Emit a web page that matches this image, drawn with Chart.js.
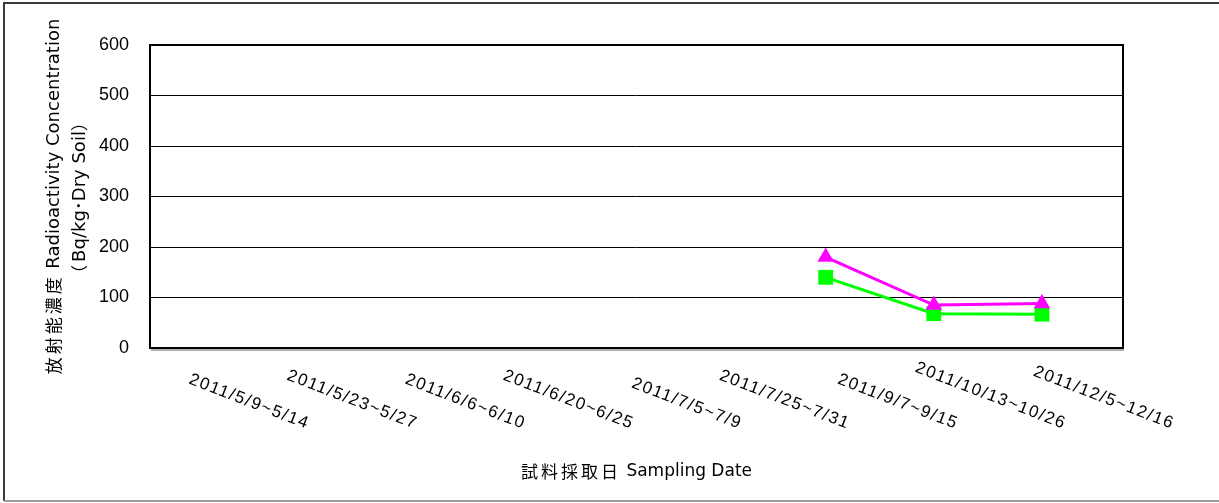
<!DOCTYPE html>
<html>
<head>
<meta charset="utf-8">
<script src="https://cdn.jsdelivr.net/npm/chart.js@4/dist/chart.umd.min.js"></script>
<style>
  html, body { margin: 0; padding: 0; background: #fff; }
  #wrap { width: 1219px; height: 503px; position: relative; }
</style>
</head>
<body>
<div id="wrap"><canvas id="chart"></canvas></div>
<script>
'use strict';

// ── Data ──────────────────────────────────────────────────────────────────
const CATEGORIES = [
  '2011/5/9~5/14', '2011/5/23~5/27', '2011/6/6~6/10', '2011/6/20~6/25',
  '2011/7/5~7/9', '2011/7/25~7/31', '2011/9/7~9/15', '2011/10/13~10/26',
  '2011/12/5~12/16',
];
const SERIES_A = [null, null, null, null, null, null, 180, 85, 88];   // magenta triangles
const SERIES_B = [null, null, null, null, null, null, 140, 68, 67];   // green squares
const Y_TICKS  = [0, 100, 200, 300, 400, 500, 600];

const Y_TITLE = [
  [['放射能濃度', 'cjk'], [' Radioactivity Concentration', 'lat']],
  [['（', 'cjk'], ['Bq/kg･Dry Soil', 'lat'], ['）', 'cjk']],
];
const X_TITLE = [['試料採取日', 'cjk'], [' Sampling Date', 'lat']];

// ── Colours / fonts ───────────────────────────────────────────────────────
const COL_A = '#ff00ff';
const COL_B = '#00ff00';

const toPoints = vals => vals.map((v, i) => ({ x: i, y: v }));

// draw a run of text parts centred on (0,0) of the current transform
function drawParts(ctx, parts, latSize) {
  const setFont = kind => {
    ctx.font = kind === 'cjk' ? "17px 'Noto Sans CJK JP'" : latSize + "px 'DejaVu Sans', 'Noto Sans CJK JP'";
    ctx.letterSpacing = kind === 'cjk' ? '3px' : '0px';
  };
  const widths = parts.map(([t, kind]) => { setFont(kind); return ctx.measureText(t).width; });
  let x = -widths.reduce((a, b) => a + b, 0) / 2;
  parts.forEach(([t, kind], i) => {
    setFont(kind);
    ctx.fillText(t, x, 0);
    x += widths[i];
  });
  ctx.letterSpacing = '0px';
}

// ── Extra drawing: frames, rotated date labels, axis titles ───────────────
const sketchPlugin = {
  id: 'sketchText',
  beforeDraw(chart) {
    const ctx = chart.ctx;
    ctx.save();
    ctx.lineWidth = 2;
    ctx.strokeStyle = '#3a3a3a';
    ctx.beginPath();
    ctx.moveTo(4, 501); ctx.lineTo(4, 3); ctx.lineTo(1225, 3);
    ctx.stroke();
    ctx.strokeStyle = '#9a9a9a';
    ctx.beginPath();
    ctx.moveTo(4, 501); ctx.lineTo(1225, 501);
    ctx.stroke();
    ctx.restore();
  },
  beforeDatasetsDraw(chart) {
    const { ctx, chartArea: a } = chart;
    ctx.save();
    ctx.strokeStyle = '#b0b0b0';
    ctx.lineWidth = 2;
    ctx.beginPath();
    ctx.moveTo(a.left + 1, a.bottom + 2); ctx.lineTo(a.right + 1, a.bottom + 2);
    ctx.stroke();
    ctx.strokeStyle = '#000';
    ctx.lineWidth = 2;
    ctx.strokeRect(a.left, a.top, a.right - a.left, a.bottom - a.top);
    ctx.restore();
  },
  afterDraw(chart) {
    const { ctx, chartArea: a } = chart;
    const xs = chart.scales.x;
    ctx.save();
    ctx.fillStyle = '#000';

    // rotated category labels, anchored at their end
    ctx.font = "17px 'Liberation Sans', Arial, sans-serif";
    ctx.letterSpacing = '1.5px';
    ctx.textAlign = 'right';
    ctx.textBaseline = 'alphabetic';
    CATEGORIES.forEach((lbl, i) => {
      const px = xs.getPixelForValue(i);
      ctx.save();
      ctx.translate(px + 130, a.bottom + 81);
      ctx.rotate(21 * Math.PI / 180);
      ctx.fillText(lbl, 0, 0);
      ctx.restore();
    });
    ctx.letterSpacing = '0px';

    // axis titles
    ctx.textAlign = 'left';
    ctx.textBaseline = 'middle';
    const cy = (a.top + a.bottom) / 2;
    [54, 80].forEach((x, li) => {
      ctx.save();
      ctx.translate(x, cy);
      ctx.rotate(-Math.PI / 2);
      drawParts(ctx, Y_TITLE[li], 18);
      ctx.restore();
    });
    ctx.save();
    ctx.translate((a.left + a.right) / 2, 472);
    drawParts(ctx, X_TITLE, 17);
    ctx.restore();

    ctx.restore();
  },
};

// ── Chart ─────────────────────────────────────────────────────────────────
new Chart(document.getElementById('chart'), {
  type: 'line',
  data: {
    datasets: [
      {
        label: 'A',
        data: toPoints(SERIES_A),
        borderColor: COL_A,
        backgroundColor: COL_A,
        borderWidth: 3,
        pointStyle: 'triangle',
        pointRadius: 9.5,
        pointBorderWidth: 0,
        spanGaps: false,
      },
      {
        label: 'B',
        data: toPoints(SERIES_B),
        borderColor: COL_B,
        backgroundColor: COL_B,
        borderWidth: 3,
        pointStyle: 'rect',
        pointRadius: 10.5,
        pointBorderWidth: 0,
        spanGaps: false,
      },
    ],
  },
  options: {
    responsive: true,
    maintainAspectRatio: false,
    animation: false,
    layout: { padding: { top: 45, right: 96, left: 0, bottom: 0 } },
    scales: {
      x: {
        type: 'linear',
        min: -0.25, max: CATEGORIES.length - 0.25,
        ticks: { display: false },
        grid: { display: false },
        border: { display: false },
        afterFit: s => { s.height = 155; },
      },
      y: {
        min: 0, max: 600,
        afterBuildTicks: s => { s.ticks = Y_TICKS.map(v => ({ value: v })); },
        ticks: { color: '#000', padding: 21, font: { family: "'Liberation Sans', Arial", size: 18 } },
        grid: { color: '#000', lineWidth: 1, drawTicks: false },
        border: { display: false },
        afterFit: s => { s.width = 150; },
      },
    },
    plugins: {
      legend: { display: false },
      tooltip: { enabled: false },
    },
  },
  plugins: [sketchPlugin],
});
</script>
</body>
</html>
